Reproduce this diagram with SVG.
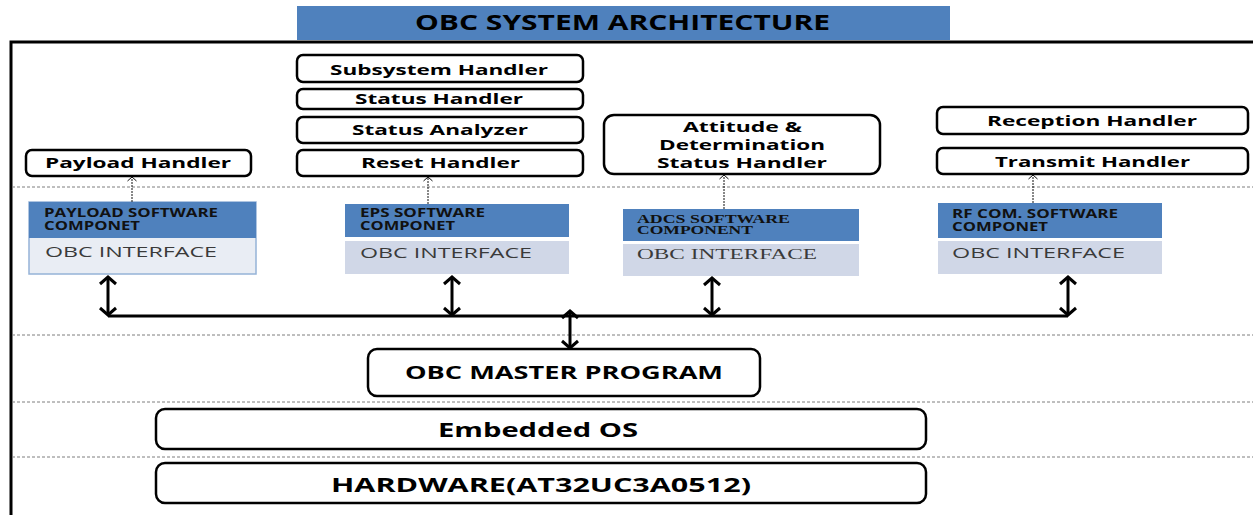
<svg xmlns="http://www.w3.org/2000/svg" width="1253" height="515" viewBox="0 0 1253 515">
<style>
  .bg{fill:#ffffff}
  .frame{fill:none;stroke:#000;stroke-width:3}
  .sep{stroke:#7f7f7f;stroke-width:1;stroke-dasharray:3 2;fill:none}
  .hbox{fill:#fff;stroke:#000;stroke-width:2.5}
  .ht{font-family:"Open Sans","DejaVu Sans",sans-serif;font-weight:bold;fill:#000}
  .hdr{fill:#4f81bd}
  .body{fill:#d0d7e7}
  .body1{fill:#e9edf4;stroke:#95b3d7;stroke-width:1.5}
  .st{font-family:"Open Sans","DejaVu Sans",sans-serif;font-weight:bold;font-size:11.5px;fill:#111}
  .sts{font-family:"Liberation Serif",serif;font-weight:bold;font-size:11.5px;fill:#111}
  .it{font-family:"Open Sans","DejaVu Sans",sans-serif;font-size:15px;fill:#3a3a3a}
  .its{font-family:"Liberation Serif",serif;font-size:15px;fill:#3a3a3a}
  .bus{stroke:#000;stroke-width:3;fill:none}
  .dbl{stroke:#000;stroke-width:3;fill:none;marker-start:url(#chev);marker-end:url(#chev)}
  .dot{stroke:#111;stroke-width:1;stroke-dasharray:2 1;fill:none;marker-end:url(#chevs)}
</style>
<defs>
  <marker id="chev" markerUnits="userSpaceOnUse" viewBox="-12 -12 24 24" markerWidth="24" markerHeight="24" refX="0" refY="0" orient="auto-start-reverse">
    <path d="M-7,-8 L0,0 L-7,8" fill="none" stroke="#000" stroke-width="3"/>
  </marker>
  <marker id="chevs" markerUnits="userSpaceOnUse" viewBox="-8 -8 16 16" markerWidth="16" markerHeight="16" refX="0" refY="0" orient="auto">
    <path d="M-4,-4.5 L0,0 L-4,4.5" fill="none" stroke="#111" stroke-width="1"/>
  </marker>
</defs>
<rect class="bg" x="0" y="0" width="1253" height="515"/>

<g id="title">
  <rect x="297" y="6" width="653" height="34" fill="#4f81bd"/>
  <text x="415" y="30" class="ht" font-size="21" textLength="415" lengthAdjust="spacingAndGlyphs">OBC SYSTEM ARCHITECTURE</text>
</g>

<g id="layout">
  <path class="frame" d="M11,515 V42 H1253"/>
  <line class="sep" x1="12" y1="187" x2="1253" y2="187"/>
  <line class="sep" x1="12" y1="335" x2="1253" y2="335"/>
  <line class="sep" x1="12" y1="402" x2="1253" y2="402"/>
  <line class="sep" x1="12" y1="457" x2="1253" y2="457"/>
</g>

<g id="payload-handler">
  <rect class="hbox" x="26" y="150" width="225" height="26" rx="6"/>
  <text x="45" y="168" class="ht" font-size="15" textLength="186" lengthAdjust="spacingAndGlyphs">Payload Handler</text>
</g>
<g id="subsystem-handler">
  <rect class="hbox" x="297" y="55" width="286" height="27" rx="6"/>
  <text x="330" y="75" class="ht" font-size="15" textLength="218" lengthAdjust="spacingAndGlyphs">Subsystem Handler</text>
</g>
<g id="status-handler">
  <rect class="hbox" x="297" y="89" width="286" height="20" rx="6"/>
  <text x="355" y="104" class="ht" font-size="15" textLength="168" lengthAdjust="spacingAndGlyphs">Status Handler</text>
</g>
<g id="status-analyzer">
  <rect class="hbox" x="297" y="117" width="286" height="26" rx="6"/>
  <text x="352" y="135" class="ht" font-size="15" textLength="176" lengthAdjust="spacingAndGlyphs">Status Analyzer</text>
</g>
<g id="reset-handler">
  <rect class="hbox" x="297" y="150" width="286" height="26" rx="6"/>
  <text x="361" y="168" class="ht" font-size="15" textLength="159" lengthAdjust="spacingAndGlyphs">Reset Handler</text>
</g>
<g id="attitude-handler">
  <rect class="hbox" x="604" y="115" width="276" height="59" rx="10"/>
  <text x="683" y="132" class="ht" font-size="15" textLength="119" lengthAdjust="spacingAndGlyphs">Attitude &amp;</text>
  <text x="659" y="150" class="ht" font-size="15" textLength="166" lengthAdjust="spacingAndGlyphs">Determination</text>
  <text x="657" y="168" class="ht" font-size="15" textLength="170" lengthAdjust="spacingAndGlyphs">Status Handler</text>
</g>
<g id="reception-handler">
  <rect class="hbox" x="937" y="107" width="311" height="27" rx="6"/>
  <text x="987" y="126" class="ht" font-size="15" textLength="210" lengthAdjust="spacingAndGlyphs">Reception Handler</text>
</g>
<g id="transmit-handler">
  <rect class="hbox" x="937" y="148" width="311" height="26" rx="6"/>
  <text x="995" y="167" class="ht" font-size="15" textLength="195" lengthAdjust="spacingAndGlyphs">Transmit Handler</text>
</g>

<g id="payload-sw">
  <rect class="body1" x="29" y="202" width="227" height="72"/>
  <rect class="hdr" x="29" y="202" width="227" height="36"/>
  <text x="44" y="217" class="st" textLength="174" lengthAdjust="spacingAndGlyphs">PAYLOAD SOFTWARE</text>
  <text x="44" y="230" class="st" textLength="96" lengthAdjust="spacingAndGlyphs">COMPONET</text>
  <text x="45" y="257" class="it" textLength="172" lengthAdjust="spacingAndGlyphs">OBC INTERFACE</text>
</g>
<g id="eps-sw">
  <rect class="hdr" x="345" y="204" width="224" height="33"/>
  <rect class="body" x="345" y="241" width="224" height="33"/>
  <text x="360" y="217" class="st" textLength="125" lengthAdjust="spacingAndGlyphs">EPS SOFTWARE</text>
  <text x="360" y="230" class="st" textLength="95" lengthAdjust="spacingAndGlyphs">COMPONET</text>
  <text x="360" y="258" class="it" textLength="172" lengthAdjust="spacingAndGlyphs">OBC INTERFACE</text>
</g>
<g id="adcs-sw">
  <rect class="hdr" x="623" y="209" width="236" height="32"/>
  <rect class="body" x="623" y="244" width="236" height="32"/>
  <text x="637" y="223" class="sts" textLength="153" lengthAdjust="spacingAndGlyphs">ADCS SOFTWARE</text>
  <text x="637" y="234" class="sts" textLength="116" lengthAdjust="spacingAndGlyphs">COMPONENT</text>
  <text x="637" y="259" class="its" textLength="180" lengthAdjust="spacingAndGlyphs">OBC INTERFACE</text>
</g>
<g id="rf-sw">
  <rect class="hdr" x="938" y="203" width="224" height="35"/>
  <rect class="body" x="938" y="241" width="224" height="33"/>
  <text x="952" y="218" class="st" textLength="166" lengthAdjust="spacingAndGlyphs">RF COM. SOFTWARE</text>
  <text x="952" y="231" class="st" textLength="96" lengthAdjust="spacingAndGlyphs">COMPONET</text>
  <text x="952" y="258" class="it" textLength="173" lengthAdjust="spacingAndGlyphs">OBC INTERFACE</text>
</g>

<g id="master">
  <rect class="hbox" x="368" y="349" width="392" height="47" rx="9"/>
  <text x="405" y="379" class="ht" font-size="18" textLength="318" lengthAdjust="spacingAndGlyphs">OBC MASTER PROGRAM</text>
</g>
<g id="embedded-os">
  <rect class="hbox" x="156" y="409" width="770" height="40" rx="9"/>
  <text x="438" y="437" class="ht" font-size="19" textLength="200" lengthAdjust="spacingAndGlyphs">Embedded OS</text>
</g>
<g id="hardware">
  <rect class="hbox" x="156" y="463" width="770" height="40" rx="9"/>
  <text x="331" y="492" class="ht" font-size="19.5" textLength="420" lengthAdjust="spacingAndGlyphs">HARDWARE(AT32UC3A0512)</text>
</g>

<g id="connectors">
  <line class="dot" x1="132" y1="202" x2="132" y2="177"/>
  <line class="dot" x1="428" y1="204" x2="428" y2="177"/>
  <line class="dot" x1="724" y1="209" x2="724" y2="175"/>
  <line class="dot" x1="1033" y1="203" x2="1033" y2="175"/>
  <line class="bus" x1="108" y1="316" x2="1068" y2="316"/>
  <line class="dbl" x1="108" y1="277" x2="108" y2="315"/>
  <line class="dbl" x1="452" y1="277" x2="452" y2="315"/>
  <line class="dbl" x1="712" y1="278" x2="712" y2="315"/>
  <line class="dbl" x1="1068" y1="277" x2="1068" y2="315"/>
  <line class="dbl" x1="570" y1="311" x2="570" y2="348"/>
</g>
</svg>
